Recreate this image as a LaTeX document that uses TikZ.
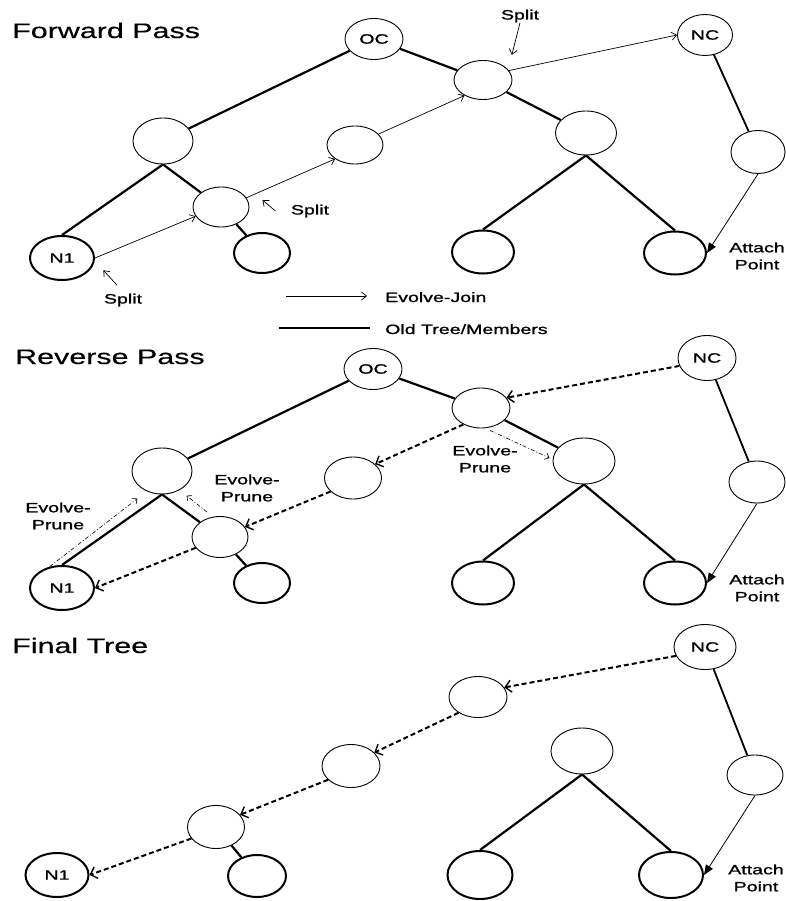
\documentclass[tikz,border=0pt]{standalone}
\usepackage{fontspec}
\newfontfamily\widesans{Liberation Sans}[FakeStretch=1.45,FakeBold=1.2]
\newfontfamily\widehead{Liberation Sans}[FakeStretch=1.45,FakeBold=0.4]
\usetikzlibrary{shapes.geometric,arrows.meta}

\begin{document}
\begin{tikzpicture}[x=1pt,y=-1pt,
  every node/.style={font=\widesans\fontsize{13.5}{17}\selectfont},
  vtx/.style={ellipse, draw, line width=0.9pt, inner sep=0pt,
              minimum width=58pt, minimum height=41pt},
  leafvtx/.style={vtx, line width=2pt, minimum width=62pt, minimum height=43pt},
  oldedge/.style={line width=2.2pt},
  joinarrow/.style={line width=0.7pt, -{Straight Barb[length=5pt,width=8pt]}},
  attacharrow/.style={line width=0.8pt, -{Triangle[length=10pt,width=8pt]}},
  prunepath/.style={line width=2pt, dash pattern=on 5pt off 3pt,
              -{Straight Barb[length=6pt,width=12pt,line width=1.4pt]}},
  prunehint/.style={line width=0.6pt, dash pattern=on 4pt off 2pt on 1pt off 2pt,
              -{Straight Barb[length=4pt,width=7pt]}},
  callout/.style={line width=0.7pt, -{Straight Barb[length=5pt,width=8pt]}},
  heading/.style={anchor=base west, inner sep=0pt,
              font=\widehead\fontsize{21}{25}\selectfont},
  note/.style={align=center, inner sep=0pt}]

\useasboundingbox[fill=white] (0,0) rectangle (785,901);

% ---------------- Forward pass ----------------
\node[heading] (hF) at (12,38) {Forward Pass};

\node[vtx] (fOC) at (374,39) {OC};
\node[vtx, minimum width=55pt] (fNC) at (705,35) {NC};
\node[vtx, minimum height=39pt] (fS) at (483,80) {};
\node[vtx, minimum width=61pt, minimum height=44pt] (fRC) at (586,133) {};
\node[leafvtx] (fLL) at (483,252) {};
\node[leafvtx] (fLR) at (675,253) {};
\node[vtx, minimum width=54pt, minimum height=43pt] (fNCc) at (758,152) {};
\node[vtx, minimum width=60pt, minimum height=46pt] (fLC) at (163,141) {};
\node[vtx, minimum width=56pt, minimum height=38pt] (fM) at (355,145) {};
\node[vtx, minimum width=56pt, minimum height=40pt] (fLS) at (221,207) {};
\node[leafvtx, minimum width=64pt, minimum height=44pt] (fN1) at (62,258) {N1};
\node[leafvtx, minimum width=56pt, minimum height=40pt] (fLf) at (262,253) {};

\draw[oldedge] (fOC) -- (fLC);
\draw[oldedge] (fOC) -- (fS);
\draw[oldedge] (fS) -- (fRC);
\draw[oldedge] (fRC.south) -- (fLL.north);
\draw[oldedge] (fRC.south) -- (fLR.north);
\draw[oldedge] (fLC.south) -- (fN1.north);
\draw[oldedge] (fLC.south) -- (fLS.north west);
\draw[oldedge] (fLS) -- (fLf);
\draw[oldedge, line width=1.8pt] (fNC) -- (fNCc);
\draw[attacharrow] (fNCc.south) -- (fLR.east);

\draw[joinarrow] (fN1.east) -- (fLS.200);
\draw[joinarrow] (fLS.20) -- (fM.215);
\draw[joinarrow] (fM.25) -- (fS.220);
\draw[joinarrow] (fS.20) -- (fNC.west);

\node (spA) at (520,16) {Split};
\node (spB) at (310,211) {Split};
\node (spC) at (123,300) {Split};
\draw[callout] ([yshift=3pt]spA.south) -- ([shift={(8,-11)}]fS.north east);
\draw[callout] ([xshift=-12pt]spB.west) -- ([shift={(13,-7)}]fLS.east);
\draw[callout] ([shift={(-6,-5)}]spC.north) -- ([shift={(18,-4)}]fN1.south east);

\node[note] (atF) at (757,256) {Attach\\Point};

% legend
\node[anchor=base west, inner sep=0pt] (lgJ) at (385,302) {Evolve-Join};
\node[anchor=base west, inner sep=0pt] (lgO) at (385,334) {Old Tree/Members};
\draw[joinarrow] ([shift={(-99,-6)}]lgJ.base west) -- ([shift={(-18,-6)}]lgJ.base west);
\draw[oldedge] ([shift={(-106,-6)}]lgO.base west) -- ([shift={(-15,-6)}]lgO.base west);

% ---------------- Reverse pass ----------------
\node[heading] (hR) at (15,364) {Reverse Pass};

\node[vtx] (rOC) at (373,369) {OC};
\node[vtx, minimum width=58pt, minimum height=45pt] (rNC) at (707,358) {NC};
\node[vtx, minimum height=40pt] (rS) at (481,408) {};
\node[vtx, minimum width=62pt, minimum height=46pt] (rRC) at (584,461) {};
\node[leafvtx] (rLL) at (483,583) {};
\node[leafvtx] (rLR) at (675,583) {};
\node[vtx, minimum width=56pt, minimum height=42pt] (rNCc) at (757,482) {};
\node[vtx, minimum width=60pt, minimum height=46pt] (rLC) at (162,471) {};
\node[vtx, minimum width=57pt, minimum height=42pt] (rM) at (353,478) {};
\node[vtx, minimum width=56pt, minimum height=41pt] (rLS) at (220,537) {};
\node[leafvtx, minimum width=64pt, minimum height=44pt] (rN1) at (62,588) {N1};
\node[leafvtx, minimum width=56pt, minimum height=40pt] (rLf) at (262,583) {};

\draw[oldedge] (rOC) -- (rLC);
\draw[oldedge] (rOC) -- (rS);
\draw[oldedge] (rS) -- (rRC);
\draw[oldedge] (rRC.south) -- (rLL.north);
\draw[oldedge] (rRC.south) -- (rLR.north);
\draw[oldedge] (rLC.south) -- (rN1.north);
\draw[oldedge] (rLC.south) -- (rLS.north west);
\draw[oldedge] (rLS) -- (rLf);
\draw[oldedge, line width=1.8pt] (rNC) -- (rNCc);
\draw[attacharrow] (rNCc.south) -- (rLR.east);

\draw[prunepath] (rNC.196) -- (rS.22);
\draw[prunepath] (rS.223) -- (rM.32);
\draw[prunepath] (rM.211) -- (rLS.22);
\draw[prunepath] (rLS.204) -- (rN1.east);

\draw[prunehint] (rN1.120) -- ([shift={(-6,9)}]rLC.225);
\draw[prunehint] ([shift={(-13,-4)}]rLS.north) -- ([shift={(3,8)}]rLC.south east);
\draw[prunehint] ([shift={(9,2)}]rS.south) -- ([shift={(-3,-3)}]rRC.west);

\node[note] (epA) at (58,516) {Evolve-\\Prune};
\node[note] (epB) at (247,488) {Evolve-\\Prune};
\node[note] (epC) at (485,459) {Evolve-\\Prune};

\node[note] (atR) at (757,588) {Attach\\Point};

% ---------------- Final tree ----------------
\node[heading] (hT) at (12,653) {Final Tree};

\node[vtx, minimum width=62pt, minimum height=45pt] (tNC) at (705,647) {NC};
\node[vtx, minimum height=41pt] (tS) at (478,697) {};
\node[vtx, minimum height=43pt] (tM) at (351,766) {};
\node[vtx, minimum width=57pt, minimum height=43pt] (tLS) at (216,827) {};
\node[leafvtx, minimum width=63pt, minimum height=44pt] (tN1) at (57,875) {N1};
\node[leafvtx, minimum width=58pt, minimum height=42pt] (tLf) at (257,876) {};
\node[vtx, minimum width=62pt, minimum height=46pt] (tRC) at (582,751) {};
\node[leafvtx, minimum width=65pt, minimum height=48pt] (tLL) at (480,875) {};
\node[leafvtx, minimum width=64pt, minimum height=46pt] (tLR) at (671,875) {};
\node[vtx, minimum width=56pt, minimum height=40pt] (tNCc) at (755,775) {};

\draw[oldedge, line width=1.8pt] (tNC) -- (tNCc);
\draw[oldedge] (tRC.south) -- (tLL.north);
\draw[oldedge] (tRC.south) -- (tLR.north);
\draw[oldedge] (tLS) -- (tLf);
\draw[attacharrow] (tNCc.south) -- (tLR.east);

\draw[prunepath] (tNC.197) -- (tS.20);
\draw[prunepath] (tS.219) -- (tM.30);
\draw[prunepath] (tM.211) -- (tLS.27);
\draw[prunepath] (tLS.205) -- (tN1.east);

\node[note] (atT) at (756,878) {Attach\\Point};

\end{tikzpicture}
\end{document}
